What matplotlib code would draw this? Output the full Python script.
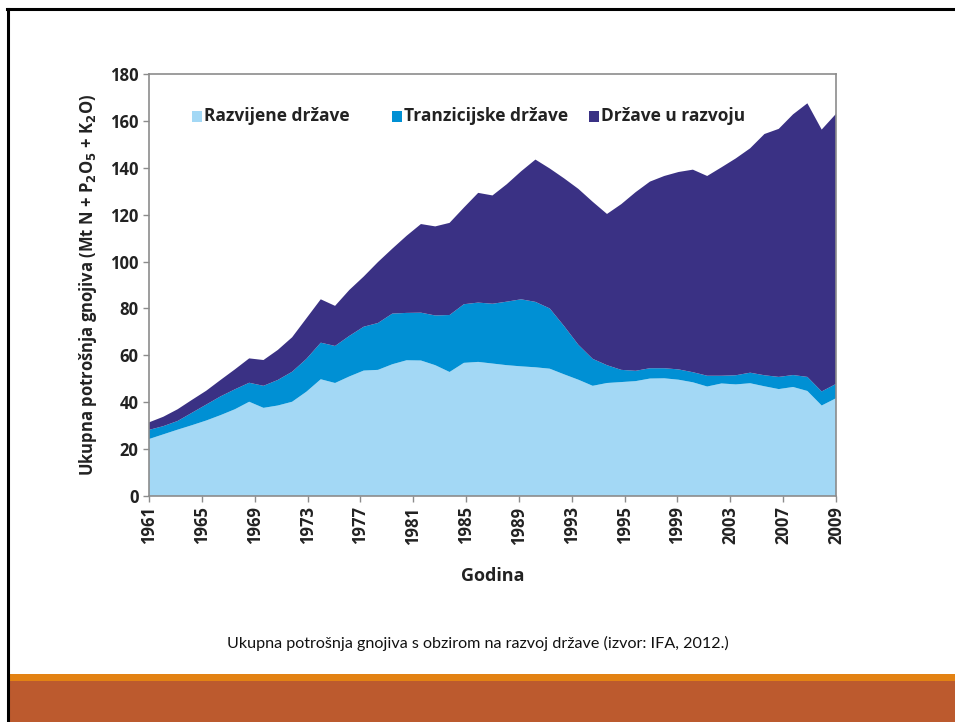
import matplotlib
matplotlib.use("Agg")
import matplotlib.pyplot as plt
import matplotlib.patches as mpatches
from matplotlib.lines import Line2D
import numpy as np

years = list(range(1961, 2010))
total = [31.4, 33.8, 37.0, 41.0, 44.9, 49.5, 54.0, 58.7, 58.0, 62.3,
         67.7, 75.8, 83.9, 81.1, 87.9, 93.6, 99.8, 105.5, 111.0, 116.0,
         115.0, 116.5, 123.0, 129.3, 128.2, 133.0, 138.5, 143.5, 139.7, 135.5,
         131.0, 125.5, 120.3, 124.5, 129.6, 134.1, 136.5, 138.2, 139.2, 136.5,
         140.2, 144.0, 148.3, 154.4, 156.6, 162.8, 167.5, 156.3, 163.0]
developed_plus_transition = [28.2, 29.8, 32.0, 35.5, 39.0, 42.5, 45.5, 48.3, 47.0, 49.5,
         53.0, 58.5, 65.4, 64.0, 68.3, 72.2, 73.8, 77.8, 78.1, 78.2,
         77.0, 77.2, 81.8, 82.5, 82.0, 82.9, 83.9, 82.8, 80.0, 72.5,
         64.5, 58.5, 55.8, 53.8, 53.4, 54.5, 54.5, 54.0, 52.8, 51.3,
         51.3, 51.5, 52.6, 51.5, 50.8, 51.6, 50.8, 44.6, 47.8]
developed = [24.3, 26.3, 28.3, 30.2, 32.2, 34.5, 37.0, 40.2, 37.6, 38.6,
         40.2, 44.5, 49.8, 48.2, 51.0, 53.5, 53.8, 56.2, 57.9, 57.8,
         55.8, 52.9, 56.8, 57.2, 56.5, 55.8, 55.3, 54.9, 54.3, 51.9,
         49.6, 47.0, 48.2, 48.6, 49.0, 50.1, 50.2, 49.6, 48.5, 46.7,
         48.0, 47.6, 48.1, 46.8, 45.6, 46.5, 44.8, 38.6, 41.7]
transition = [m - d for m, d in zip(developed_plus_transition, developed)]
developing = [t - m for t, m in zip(total, developed_plus_transition)]

series_names = ["Razvijene države", "Tranzicijske države", "Države u razvoju"]
colors = ["#A3D8F5", "#0090D4", "#3A3184"]
xtick_labels = ["1961", "1965", "1969", "1973", "1977", "1981", "1985", "1989",
                "1993", "1995", "1999", "2003", "2007", "2009"]
yticks = [0, 20, 40, 60, 80, 100, 120, 140, 160, 180]

FONT = ["Open Sans", "DejaVu Sans"]
plt.rcParams['font.family'] = FONT

W, H = 955, 722
fig = plt.figure(figsize=(W / 100, H / 100), dpi=100)
fig.patch.set_facecolor("white")

# slide decorations
fig.add_artist(Line2D([7/W, 1.0], [1 - 9/H, 1 - 9/H], color="black", lw=2.2))
fig.add_artist(Line2D([8/W, 8/W], [0, 1 - 9/H], color="black", lw=2.2))
fig.add_artist(mpatches.Rectangle((10/W, 0), 1, (H-681)/H, transform=fig.transFigure,
                                  facecolor="#BC5A2E", edgecolor="none"))
fig.add_artist(mpatches.Rectangle((10/W, (H-681)/H), 1, 7/H, transform=fig.transFigure,
                                  facecolor="#E38213", edgecolor="none"))

ax = fig.add_axes([149/W, (H-496)/H, 687/W, 422/H])
ax.stackplot(years, developed, transition, developing, colors=colors, linewidth=0)
ax.set_xlim(years[0], years[-1])
ax.set_ylim(0, 180)
ax.set_yticks(yticks)
ax.set_yticklabels([str(v) for v in yticks], fontsize=12, fontweight="bold", color="#222222")
xt = np.linspace(years[0], years[-1], len(xtick_labels))
ax.set_xticks(xt)
ax.set_xticklabels(xtick_labels, rotation=90, fontsize=12, fontweight="bold", color="#222222")
for s in ax.spines.values():
    s.set_color("#8C8C8C")
    s.set_linewidth(1.2)
ax.tick_params(axis="both", color="#8C8C8C", length=4, width=1)
ax.set_xlabel("Godina", fontsize=13, fontweight="bold", color="#222222", labelpad=16)
ax.set_ylabel("Ukupna potrošnja gnojiva (Mt N + P$_\\mathbf{2}$O$_\\mathbf{5}$ + K$_\\mathbf{2}$O)",
              fontsize=12, fontweight="bold", color="#222222", labelpad=8)

# legend entries placed like the reference (manual layout)
leg_x = [192, 392, 589]
leg_y = 116
for xp, name, c in zip(leg_x, series_names, colors):
    fig.add_artist(mpatches.Rectangle((xp/W, 1 - (leg_y + 5.5)/H), 10/W, 11/H,
                                      transform=fig.transFigure, facecolor=c, edgecolor="none"))
    fig.text((xp + 12)/W, 1 - leg_y/H, name, ha="left", va="center", fontsize=12.5,
             fontweight="bold", color="#222222")

fig.text(0.5, 1 - 643/H, "Ukupna potrošnja gnojiva s obzirom na razvoj države (izvor: IFA, 2012.)",
         ha="center", va="center", fontsize=11.6, family=["Lato", "DejaVu Sans"], color="#111111")

fig.savefig("out.png", dpi=100)
